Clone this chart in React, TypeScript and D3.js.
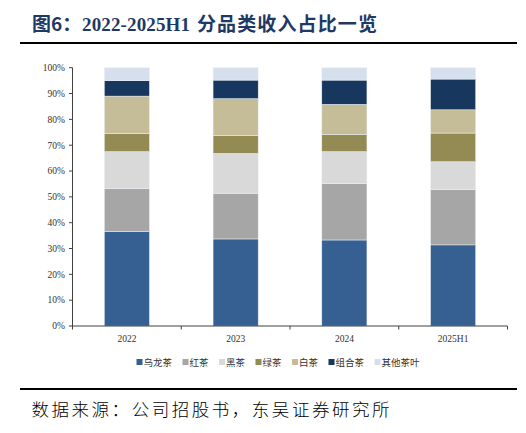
import React from 'react'
import * as d3 from 'd3'

// categories (x) and series (percent of revenue)
const years = ['2022', '2023', '2024', '2025H1']
const seriesNames = ['乌龙茶', '红茶', '黑茶', '绿茶', '白茶', '组合茶', '其他茶叶']
const colors = ['#366092', '#a6a6a6', '#d9d9d9', '#948a54', '#c4bd97', '#17375e', '#d6e0ec']

const oolong = [36.5, 33.7, 33.3, 31.4]
const blackTea = [16.8, 17.7, 21.9, 21.4] // 红茶
const darkTea = [14.2, 15.4, 12.3, 10.8] // 黑茶
const greenTea = [7.1, 6.9, 6.7, 11.1]
const whiteTea = [14.4, 14.3, 11.6, 9.0]
const blended = [6.0, 7.2, 9.4, 11.9]
const others = [5.0, 4.8, 4.8, 4.4]

const yTicks = [0, 10, 20, 30, 40, 50, 60, 70, 80, 90, 100]

const W = 526
const H = 433
const margin = {left: 72.5, right: 18.5, top: 67.7, bottom: 107}

function App() {
  const table = years.map((y, i) => ({
    year: y,
    乌龙茶: oolong[i],
    红茶: blackTea[i],
    黑茶: darkTea[i],
    绿茶: greenTea[i],
    白茶: whiteTea[i],
    组合茶: blended[i],
    其他茶叶: others[i],
  }))
  const stacked = d3.stack<any>().keys(seriesNames)(table)

  const x = d3
    .scaleBand()
    .domain(years)
    .range([margin.left, W - margin.right])
    .paddingInner(0.585)
    .paddingOuter(0.2925)
  const y = d3
    .scaleLinear()
    .domain([0, 100])
    .range([H - margin.bottom, margin.top])

  const step = x.step()
  const x0 = margin.left
  const bottom = y(0)
  const axisColor = '#404040'
  const serif = '"Liberation Serif", "Times New Roman", serif'
  const cjk = '"Noto Sans CJK SC", sans-serif'

  // legend layout
  const legFont = 9.5
  let lx = 136.5
  const legend = seriesNames.map((name, i) => {
    const item = {name, color: colors[i], x: lx}
    lx += 7 + name.length * legFont + 10.5
    return item
  })

  return (
    <svg width={W} height={H} style={{display: 'block', position: 'absolute', left: 0, top: 0}}>
      <rect width={W} height={H} fill="#fff" />
      {/* title */}
      <g fontSize={19} fontWeight="bold" fill="#1f3864">
        <text x={32} y={31} fontFamily={cjk}>
          图6：
        </text>
        <text x={82} y={31} fontFamily={serif} textLength={108} lengthAdjust="spacing">
          2022-2025H1
        </text>
        <text x={197} y={31} fontFamily={cjk} textLength={180} lengthAdjust="spacing">
          分品类收入占比一览
        </text>
      </g>
      <line x1={20} x2={517} y1={43} y2={43} stroke="#000" strokeWidth={2} />

      {/* bars */}
      {stacked.map((s, si) => (
        <g key={s.key} fill={colors[si]}>
          {s.map((d: any, i: number) => (
            <rect
              key={i}
              x={x(years[i])}
              width={x.bandwidth()}
              y={y(d[1])}
              height={y(d[0]) - y(d[1])}
              stroke="#eef2f7"
              strokeWidth={0.5}
            />
          ))}
        </g>
      ))}

      {/* y axis */}
      <line x1={x0} x2={x0} y1={y(100)} y2={bottom} stroke={axisColor} strokeWidth={1} />
      {yTicks.map(t => (
        <g key={t}>
          <line x1={x0 - 3.5} x2={x0} y1={y(t)} y2={y(t)} stroke={axisColor} />
          <text
            x={65}
            y={y(t)}
            dy="0.35em"
            textAnchor="end"
            fontSize={9.5}
            fontFamily={serif}
            fill="#333">
            {t}%
          </text>
        </g>
      ))}

      {/* x axis */}
      <line x1={x0} x2={W - margin.right} y1={bottom} y2={bottom} stroke={axisColor} />
      {d3.range(years.length + 1).map(k => (
        <line
          key={k}
          x1={x0 + k * step}
          x2={x0 + k * step}
          y1={bottom}
          y2={bottom + 3.5}
          stroke={axisColor}
        />
      ))}
      {years.map(yr => (
        <text
          key={yr}
          x={(x(yr) as number) + x.bandwidth() / 2}
          y={342}
          textAnchor="middle"
          fontSize={9.5}
          fontFamily={serif}
          fill="#333">
          {yr}
        </text>
      ))}

      {/* legend */}
      {legend.map(l => (
        <g key={l.name}>
          <rect x={l.x} y={359} width={6} height={6} fill={l.color} />
          <text x={l.x + 7} y={365.5} fontSize={legFont} fontFamily={cjk} fill="#333">
            {l.name}
          </text>
        </g>
      ))}

      {/* source */}
      <line x1={20} x2={517} y1={389} y2={389} stroke="#000" strokeWidth={2} />
      <text
        x={31.5}
        y={416}
        fontSize={17.5}
        textLength={358}
        lengthAdjust="spacing"
        fontFamily={cjk}
        fontWeight={300}
        fill="#000">
        数据来源：公司招股书，东吴证券研究所
      </text>
    </svg>
  )
}

export default App
